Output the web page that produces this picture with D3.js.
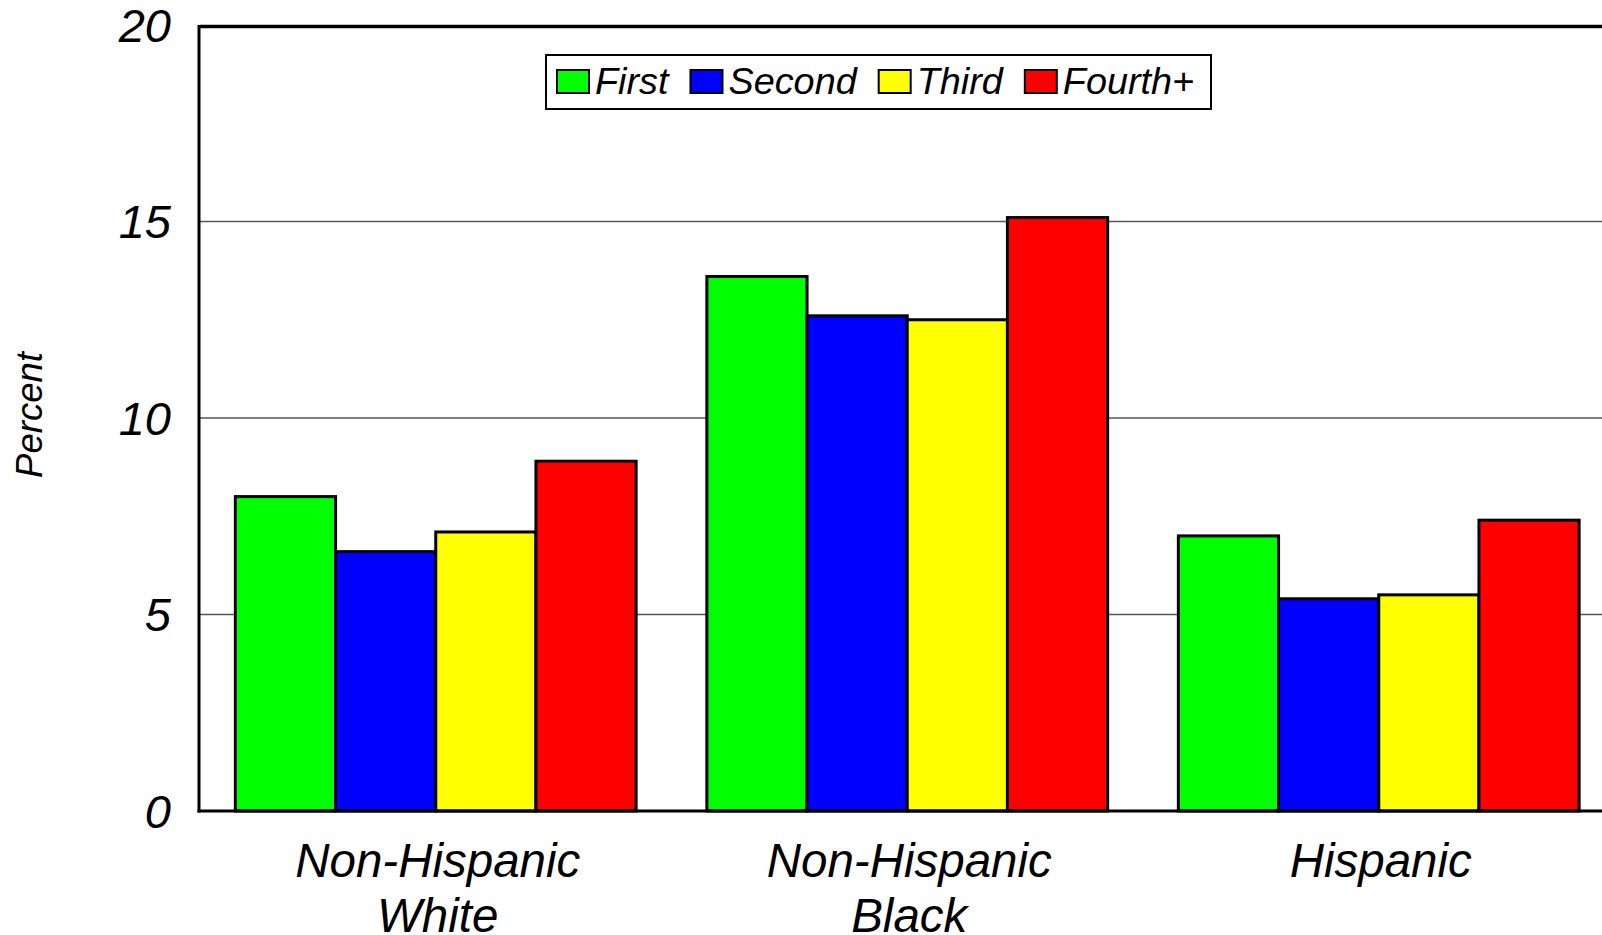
<!DOCTYPE html>
<html>
<head>
<meta charset="utf-8">
<script src="https://cdn.jsdelivr.net/npm/d3@7"></script>
<style>
  html, body { margin: 0; padding: 0; background: #fff; }
  svg { display: block; }
  text { font-family: "Liberation Sans", Arial, sans-serif; font-style: italic; fill: #000; }
</style>
</head>
<body>
<svg id="chart" width="1602" height="935"></svg>
<script>
// ---- data ----
const categories = [["Non-Hispanic", "White"], ["Non-Hispanic", "Black"], ["Hispanic"]];
const categoryKeys = ["NHW", "NHB", "H"];
const seriesNames = ["First", "Second", "Third", "Fourth+"];
const seriesColors = ["#00ff00", "#0000ff", "#ffff00", "#ff0000"];
const firstValues = [8.0, 13.6, 7.0];
const secondValues = [6.6, 12.6, 5.4];
const thirdValues = [7.1, 12.5, 5.5];
const fourthValues = [8.9, 15.1, 7.4];
const yTicks = [0, 5, 10, 15, 20];
const yLabel = "Percent";

const seriesValues = [firstValues, secondValues, thirdValues, fourthValues];

// ---- layout ----
const W = 1602, H = 935;
const plot = { left: 200, top: 25, bottom: 811, right: 1614.5 };

const svg = d3.select("#chart");

const x0 = d3.scaleBand().domain(categoryKeys).range([plot.left, plot.right])
  .paddingInner(0.15).paddingOuter(0.075);
const x1 = d3.scaleBand().domain(seriesNames).range([0, x0.bandwidth()]).padding(0);
const y = d3.scaleLinear().domain([0, 20]).range([plot.bottom, plot.top]);

// gridlines
svg.append("g").selectAll("line").data(yTicks.filter(t => t > 0 && t < 20)).join("line")
  .attr("x1", plot.left).attr("x2", W)
  .attr("y1", d => y(d)).attr("y2", d => y(d))
  .attr("stroke", "#555").attr("stroke-width", 1.6);

// bars
const groups = svg.append("g").selectAll("g").data(categoryKeys).join("g")
  .attr("transform", d => `translate(${x0(d)},0)`);
groups.selectAll("rect").data((d, i) => seriesNames.map((s, j) => ({ s, j, v: seriesValues[j][i] })))
  .join("rect")
  .attr("x", d => x1(d.s)).attr("width", x1.bandwidth())
  .attr("y", d => y(d.v)).attr("height", d => y(0) - y(d.v))
  .attr("fill", d => seriesColors[d.j])
  .attr("stroke", "#000").attr("stroke-width", 3);

// frame: top line, left axis, bottom axis
svg.append("line").attr("x1", plot.left).attr("x2", W).attr("y1", y(20)+1.5).attr("y2", y(20)+1.5)
  .attr("stroke", "#000").attr("stroke-width", 3.5);
svg.append("line").attr("x1", plot.left - 1).attr("x2", plot.left - 1).attr("y1", y(20)).attr("y2", y(0) + 1.5)
  .attr("stroke", "#000").attr("stroke-width", 3);
svg.append("line").attr("x1", plot.left - 2.5).attr("x2", W).attr("y1", y(0)).attr("y2", y(0))
  .attr("stroke", "#000").attr("stroke-width", 3);

// y tick labels
const yAxis = d3.axisLeft(y).tickValues(yTicks).tickSize(0).tickPadding(0).tickFormat(d3.format("d"));
const ya = svg.append("g").attr("transform", `translate(${171},0)`).call(yAxis);
ya.select(".domain").remove();
ya.selectAll("text").attr("font-size", 47).attr("font-family", "Liberation Sans, Arial, sans-serif")
  .attr("font-style", "italic").attr("fill", "#000").attr("dy", "0.35em");

// y label
svg.append("text").attr("transform", `translate(42,415) rotate(-90)`)
  .attr("text-anchor", "middle").attr("font-size", 36.5).text(yLabel);

// category labels
const cl = svg.append("g").selectAll("text").data(categoryKeys).join("text")
  .attr("text-anchor", "middle").attr("font-size", 47.5)
  .attr("x", d => x0(d) + x0.bandwidth() / 2 + 2);
cl.each(function(d, i) {
  const t = d3.select(this);
  categories[i].forEach((line, k) => {
    t.append("tspan").attr("x", x0(d) + x0.bandwidth() / 2 + 2).attr("y", 877 + k * 55).text(line);
  });
});

// legend
const lg = svg.append("g");
const box = lg.append("rect").attr("x", 546).attr("y", 55).attr("width", 665).attr("height", 54)
  .attr("fill", "#fff").attr("stroke", "#000").attr("stroke-width", 2);
let cx = 557;
seriesNames.forEach((s, j) => {
  lg.append("rect").attr("x", cx).attr("y", 70).attr("width", 32).attr("height", 23)
    .attr("fill", seriesColors[j]).attr("stroke", "#000").attr("stroke-width", 2);
  const t = lg.append("text").attr("x", cx + 38).attr("y", 94).attr("font-size", 37.8).text(s);
  cx += 38 + t.node().getComputedTextLength() + 22;
});
</script>
</body>
</html>
